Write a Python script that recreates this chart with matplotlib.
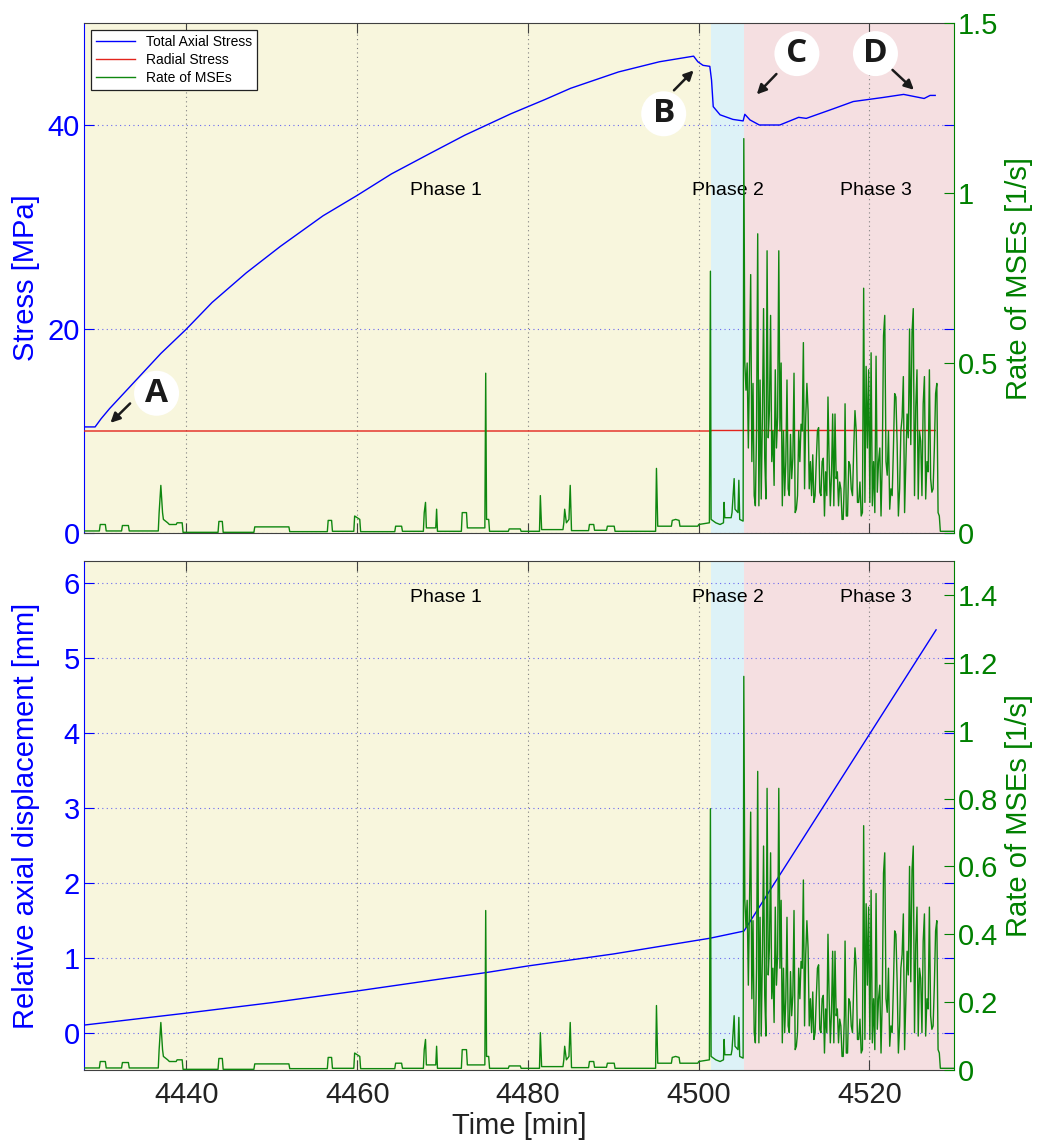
import numpy as np
import matplotlib.pyplot as plt

plt.rcParams['font.family'] = ['Liberation Sans', 'DejaVu Sans']

# Total axial stress [MPa]
stress_t = [4428.0, 4429.3, 4430.0, 4431.0, 4433.0, 4435.0, 4437.0, 4440.0, 4443.0, 4447.0,
            4451.0, 4456.0, 4460.0, 4464.0, 4468.5, 4472.6, 4478.0, 4482.0, 4485.0, 4490.6,
            4495.4, 4499.4, 4499.9, 4500.5, 4501.3, 4501.5, 4501.7, 4502.5, 4504.0, 4505.2,
            4505.4, 4506.0, 4507.1, 4509.5, 4511.7, 4512.6, 4515.8, 4518.1, 4521.6, 4524.0,
            4525.2, 4526.4, 4527.1, 4527.7]
stress = [10.4, 10.4, 11.2, 12.2, 14.0, 15.8, 17.6, 20.0, 22.6, 25.5,
          28.1, 31.1, 33.1, 35.2, 37.2, 39.0, 41.1, 42.5, 43.6, 45.2,
          46.2, 46.75, 46.2, 45.85, 45.75, 44.4, 41.8, 41.0, 40.55, 40.4,
          41.05, 40.5, 40.0, 40.0, 40.75, 40.65, 41.6, 42.3, 42.7, 43.0,
          42.8, 42.6, 42.9, 42.9]

# Radial stress [MPa]
radial_t = [4428.0, 4501.4, 4501.5, 4527.7]
radial = [10.0, 10.0, 10.05, 10.05]

# Relative axial displacement [mm]
disp_t = [4428.0, 4437.0, 4440.0, 4450.0, 4460.0, 4470.0, 4475.0, 4480.0, 4490.0, 4494.3,
          4501.3, 4505.3, 4527.8]
disp = [0.10, 0.22, 0.26, 0.40, 0.556, 0.72, 0.80, 0.89, 1.05, 1.13,
        1.26, 1.356, 5.38]

# Rate of MSEs [1/s], phase 1 and 2 (sparse events)
mse_t = [4428.0, 4429.8, 4429.9, 4430.5, 4430.6, 4432.4, 4432.5, 4433.2, 4433.3,
         4436.7, 4436.8, 4437.0, 4437.2, 4437.3, 4437.8, 4438.0, 4438.8, 4438.9, 4439.5, 4439.6,
         4443.7, 4443.8, 4444.2, 4444.3, 4447.9, 4448.0, 4452.0, 4452.1,
         4456.5, 4456.6, 4457.0, 4457.1, 4459.6, 4459.7, 4460.0, 4460.3, 4460.4,
         4464.4, 4464.5, 4465.2, 4465.3, 4467.75, 4467.85, 4468.0, 4468.1, 4469.2, 4469.3, 4469.4,
         4472.2, 4472.3, 4472.8, 4472.9, 4474.95, 4475.05, 4475.15, 4475.4, 4475.5,
         4477.7, 4477.8, 4479.1, 4479.2, 4481.35, 4481.45, 4481.6, 4484.1, 4484.2, 4484.3,
         4484.5, 4484.8, 4484.95, 4485.1, 4487.1, 4487.2, 4487.7, 4487.8, 4489.2, 4489.3,
         4490.1, 4490.2, 4494.95, 4495.05, 4495.2, 4496.8, 4496.9, 4497.3, 4497.7, 4497.8,
         4499.9, 4500.0, 4501.25, 4501.37, 4501.45, 4502.0, 4502.5, 4502.9, 4502.97, 4503.05,
         4503.8, 4503.9, 4504.15, 4504.25, 4504.6, 4504.7, 4504.8, 4505.2, 4505.28]
mse = [0.006, 0.006, 0.025, 0.025, 0.006, 0.006, 0.022, 0.022, 0.006,
       0.006, 0.06, 0.14, 0.06, 0.04, 0.03, 0.025, 0.025, 0.03, 0.03, 0.002,
       0.002, 0.034, 0.034, 0.002, 0.002, 0.018, 0.018, 0.004,
       0.004, 0.037, 0.037, 0.005, 0.005, 0.05, 0.045, 0.04, 0.004,
       0.004, 0.02, 0.02, 0.005, 0.005, 0.06, 0.09, 0.015, 0.015, 0.07, 0.005,
       0.005, 0.06, 0.06, 0.015, 0.015, 0.47, 0.04, 0.04, 0.005,
       0.005, 0.012, 0.012, 0.005, 0.005, 0.11, 0.01, 0.01, 0.03, 0.07,
       0.03, 0.04, 0.14, 0.007, 0.007, 0.025, 0.025, 0.008, 0.008, 0.02,
       0.02, 0.005, 0.005, 0.19, 0.02, 0.02, 0.037, 0.04, 0.037, 0.02,
       0.02, 0.025, 0.03, 0.77, 0.04, 0.03, 0.025, 0.03, 0.09, 0.045,
       0.045, 0.06, 0.16, 0.07, 0.06, 0.155, 0.04, 0.035, 1.16]

# Rate of MSEs [1/s], phase 3, evenly sampled 4505.40 -> 4517.06
mse_p3a = [0.50, 0.42, 0.50, 0.25, 0.49, 0.76, 0.21, 0.44, 0.11, 0.08,
           0.30, 0.88, 0.08, 0.45, 0.10, 0.34, 0.66, 0.22, 0.10, 0.83,
           0.28, 0.36, 0.64, 0.21, 0.30, 0.14, 0.48, 0.25, 0.34, 0.83,
           0.30, 0.50, 0.08, 0.30, 0.11, 0.21, 0.45, 0.13, 0.11, 0.29,
           0.16, 0.22, 0.47, 0.06, 0.07, 0.11, 0.30, 0.21, 0.32, 0.30,
           0.56, 0.13, 0.34, 0.44, 0.36, 0.13, 0.21, 0.11, 0.23, 0.09,
           0.11, 0.21, 0.30, 0.31, 0.12, 0.11, 0.21, 0.22, 0.05, 0.18,
           0.11, 0.40, 0.21, 0.08, 0.17, 0.35, 0.08, 0.35, 0.16, 0.18,
           0.08, 0.15, 0.13, 0.04, 0.04, 0.16]
# Rate of MSEs [1/s], phase 3, evenly sampled 4517.14 -> 4528.18
mse_p3b = [0.38, 0.05, 0.05, 0.21, 0.20, 0.13, 0.11, 0.25, 0.36, 0.30,
           0.09, 0.09, 0.15, 0.05, 0.06, 0.72, 0.09, 0.49, 0.25, 0.48,
           0.09, 0.53, 0.08, 0.21, 0.06, 0.52, 0.12, 0.21, 0.25, 0.05,
           0.21, 0.58, 0.64, 0.21, 0.17, 0.30, 0.07, 0.13, 0.11, 0.25,
           0.41, 0.40, 0.26, 0.05, 0.13, 0.30, 0.34, 0.46, 0.06, 0.21,
           0.35, 0.28, 0.60, 0.26, 0.59, 0.66, 0.11, 0.37, 0.48, 0.10,
           0.30, 0.27, 0.11, 0.38, 0.46, 0.10, 0.21, 0.18, 0.48, 0.16,
           0.12, 0.13, 0.25, 0.41, 0.44, 0.06, 0.05]
mse_tail_t = [4528.3, 4529.9]
mse_tail = [0.005, 0.005]

phases = ['Phase 1', 'Phase 2', 'Phase 3']
phase_edges = [4428.0, 4501.4, 4505.3, 4530.0]
phase_colors = ['#f8f6dd', '#ddf2f7', '#f5dfe1']
phase_text_t = [4470.4, 4503.4, 4520.7]

xticks = [4440, 4460, 4480, 4500, 4520]

t_all = np.concatenate([mse_t,
                        np.linspace(4505.40, 4517.06, len(mse_p3a)),
                        np.linspace(4517.14, 4528.18, len(mse_p3b)),
                        mse_tail_t])
r_all = np.concatenate([mse, mse_p3a, mse_p3b, mse_tail])

BLUE = '#0000ff'
GREEN = '#008000'
LINE_GREEN = '#0f870f'
RED = '#e3241c'
DARK = '#404040'

fig = plt.figure(figsize=(10.37, 11.46), dpi=100)
ax1 = fig.add_axes([84 / 1037, 1 - 533 / 1146, 870 / 1037, 510 / 1146])
ax2 = fig.add_axes([84 / 1037, 1 - 1070 / 1146, 870 / 1037, 509 / 1146])
ax1r = ax1.twinx()
ax2r = ax2.twinx()


def style_pair(ax, axr, ylim, yticks, rticks, rlabels):
    for i in range(3):
        ax.axvspan(phase_edges[i], phase_edges[i + 1], color=phase_colors[i], lw=0, zorder=0)
    ax.set_xlim(4428.0, 4529.9)
    ax.set_ylim(*ylim)
    ax.set_yticks(yticks)
    ax.set_xticks(xticks)
    axr.set_ylim(0, 1.5)
    axr.set_yticks(rticks)
    axr.set_yticklabels(rlabels)
    ax.xaxis.grid(True, ls=(0, (1, 3)), color='#808080', lw=0.8)
    ax.yaxis.grid(True, ls=(0, (1, 3)), color='#6a6af0', lw=0.8)
    ax.set_axisbelow(True)
    ax.tick_params(axis='x', direction='in', length=7, top=True, color=DARK,
                   labelsize=21, labelcolor='#222222', pad=8)
    ax.tick_params(axis='y', direction='in', length=7, right=True, color=BLUE,
                   labelsize=21, labelcolor=BLUE, pad=3)
    axr.tick_params(axis='y', direction='in', length=7, color=GREEN,
                    labelsize=21, labelcolor=GREEN, pad=3)
    for s in ['top', 'bottom']:
        ax.spines[s].set_color(DARK)
        axr.spines[s].set_visible(False)
    ax.spines['left'].set_color(BLUE)
    ax.spines['right'].set_visible(False)
    axr.spines['left'].set_visible(False)
    axr.spines['right'].set_color(GREEN)


style_pair(ax1, ax1r, (0, 50), [0, 20, 40], [0, 0.5, 1, 1.5], ['0', '0.5', '1', '1.5'])
style_pair(ax2, ax2r, (-0.5, 6.3), [0, 1, 2, 3, 4, 5, 6],
           [0, 0.2, 0.4, 0.6, 0.8, 1.0, 1.2, 1.4],
           ['0', '0.2', '0.4', '0.6', '0.8', '1', '1.2', '1.4'])
ax1.tick_params(axis='x', labelbottom=False)

# top panel
l_ax, = ax1.plot(stress_t, stress, color=BLUE, lw=1.0, zorder=3)
l_rad, = ax1.plot(radial_t, radial, color=RED, lw=1.0, zorder=3)
l_mse, = ax1r.plot(t_all, r_all, color=LINE_GREEN, lw=1.0)
leg = ax1r.legend([l_ax, l_rad, l_mse], ['Total Axial Stress', 'Radial Stress', 'Rate of MSEs'],
                  loc='upper left', fontsize=10, fancybox=False, framealpha=1,
                  edgecolor='#222222', handlelength=2.8, borderaxespad=0.5,
                  labelspacing=0.3, borderpad=0.35)
leg.get_frame().set_linewidth(0.9)

# bottom panel
ax2.plot(disp_t, disp, color=BLUE, lw=1.0, zorder=3)
ax2r.plot(t_all, r_all, color=LINE_GREEN, lw=1.0)

for i in range(3):
    ax1.text(phase_text_t[i], 33.6, phases[i], fontsize=14, ha='center', va='center', zorder=4)
    ax2.text(phase_text_t[i], 5.81, phases[i], fontsize=14, ha='center', va='center', zorder=4)

ax1.set_ylabel('Stress [MPa]', color=BLUE, fontsize=21)
ax1r.set_ylabel('Rate of MSEs [1/s]', color=GREEN, fontsize=21)
ax2.set_ylabel('Relative axial displacement [mm]', color=BLUE, fontsize=21)
ax2r.set_ylabel('Rate of MSEs [1/s]', color=GREEN, fontsize=21)
ax2.set_xlabel('Time [min]', fontsize=21, color='#222222', labelpad=2)
for a in (ax1, ax2):
    a.yaxis.set_label_coords(-0.05, 0.5)
for a in (ax1r, ax2r):
    a.yaxis.set_label_coords(1.059, 0.5)

# point annotations
marks = ['A', 'B', 'C', 'D']
mark_pos = [(4436.5, 13.7), (4495.9, 41.1), (4511.5, 47.0), (4520.7, 47.0)]
arrow_from = [(4433.4, 12.7), (4497.1, 43.4), (4509.1, 45.0), (4522.7, 45.4)]
arrow_to = [(4431.1, 10.8), (4499.4, 45.35), (4506.8, 43.0), (4525.2, 43.45)]
for m, p, a0, a1 in zip(marks, mark_pos, arrow_from, arrow_to):
    ax1.text(p[0], p[1], m, fontsize=24, fontweight='bold', family='Open Sans',
             color='#1a1a1a', ha='center', va='center', zorder=6,
             bbox=dict(boxstyle='circle,pad=0.18', fc='white', ec='none'))
    ax1.annotate('', xy=a1, xytext=a0, zorder=6,
                 arrowprops=dict(arrowstyle='-|>', color='#1a1a1a', lw=1.8,
                                 mutation_scale=14, shrinkA=0, shrinkB=0))

plt.savefig('out.png', dpi=100)
